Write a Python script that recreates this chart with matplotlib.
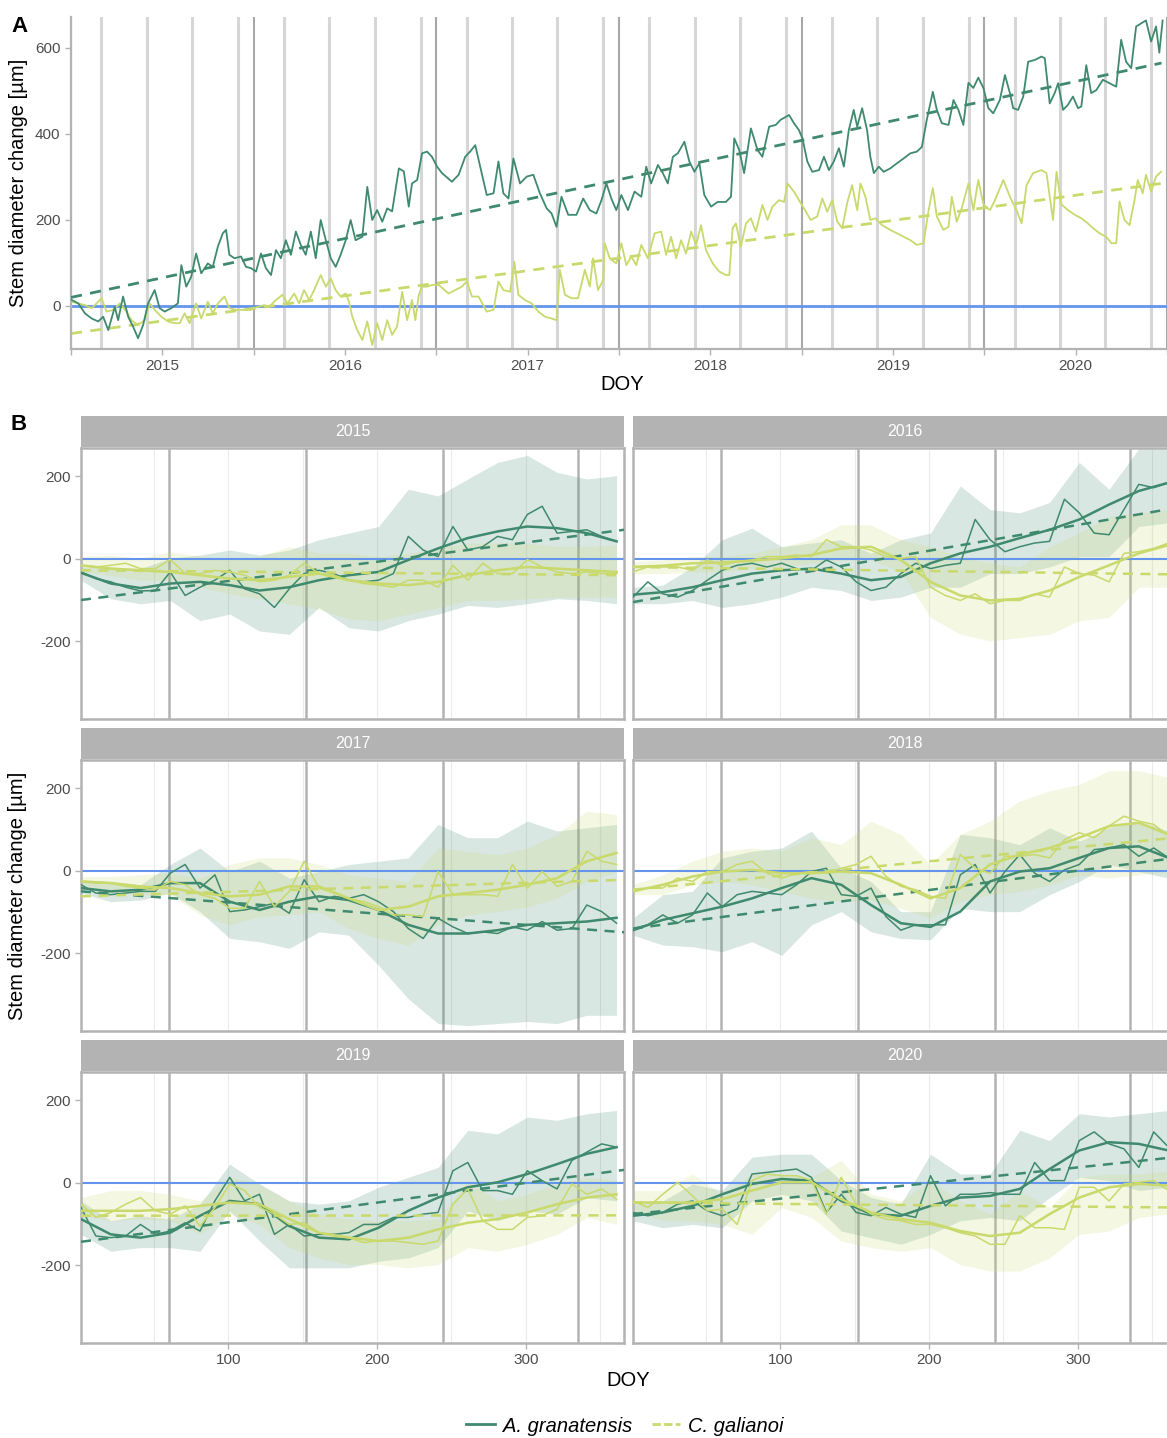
import numpy as np
import matplotlib.pyplot as plt
from matplotlib.lines import Line2D

plt.rcParams['font.family'] = ['Liberation Sans', 'DejaVu Sans']
plt.rcParams['axes.unicode_minus'] = False

DARK = '#3f8a6e'
LIGHT = '#c9d96c'
ZERO = '#6495ed'
GREY = '#b3b3b3'

# ---------------- panel A: whole record (decimal years, um)
yr_gran = [2014.500, 2014.540, 2014.576, 2014.613, 2014.649, 2014.676, 2014.704, 2014.740, 2014.758, 2014.785,
           2014.813, 2014.840, 2014.867, 2014.895, 2014.922, 2014.958, 2014.985, 2015.013, 2015.049, 2015.085,
           2015.104, 2015.131, 2015.158, 2015.185, 2015.213, 2015.249, 2015.276, 2015.304, 2015.331, 2015.349,
           2015.367, 2015.395, 2015.431, 2015.458, 2015.485, 2015.513, 2015.540, 2015.567, 2015.595, 2015.622,
           2015.649, 2015.676, 2015.704, 2015.731, 2015.758, 2015.785, 2015.813, 2015.840, 2015.867, 2015.895,
           2015.922, 2015.949, 2015.976, 2016.004, 2016.031, 2016.058, 2016.095, 2016.122, 2016.149, 2016.176,
           2016.204, 2016.231, 2016.258, 2016.295, 2016.322, 2016.349, 2016.367, 2016.395, 2016.422, 2016.449,
           2016.476, 2016.504, 2016.531, 2016.585, 2016.622, 2016.658, 2016.685, 2016.713, 2016.740, 2016.776,
           2016.813, 2016.840, 2016.867, 2016.895, 2016.922, 2016.958, 2016.995, 2017.031, 2017.067, 2017.104,
           2017.131, 2017.158, 2017.185, 2017.222, 2017.267, 2017.304, 2017.340, 2017.376, 2017.404, 2017.431,
           2017.458, 2017.485, 2017.513, 2017.549, 2017.585, 2017.622, 2017.649, 2017.676, 2017.713, 2017.740,
           2017.767, 2017.795, 2017.822, 2017.858, 2017.885, 2017.913, 2017.940, 2017.967, 2018.004, 2018.040,
           2018.085, 2018.113, 2018.131, 2018.158, 2018.185, 2018.222, 2018.258, 2018.285, 2018.322, 2018.358,
           2018.385, 2018.431, 2018.458, 2018.485, 2018.504, 2018.531, 2018.558, 2018.595, 2018.622, 2018.649,
           2018.676, 2018.704, 2018.731, 2018.758, 2018.785, 2018.804, 2018.831, 2018.858, 2018.876, 2018.895,
           2018.922, 2018.949, 2018.985, 2019.022, 2019.058, 2019.095, 2019.131, 2019.158, 2019.185, 2019.218,
           2019.240, 2019.267, 2019.304, 2019.331, 2019.358, 2019.385, 2019.413, 2019.440, 2019.467, 2019.495,
           2019.522, 2019.549, 2019.585, 2019.613, 2019.640, 2019.658, 2019.685, 2019.713, 2019.740, 2019.776,
           2019.813, 2019.831, 2019.858, 2019.885, 2019.904, 2019.931, 2019.958, 2019.985, 2020.013, 2020.031,
           2020.058, 2020.085, 2020.113, 2020.149, 2020.185, 2020.222, 2020.249, 2020.276, 2020.304, 2020.331,
           2020.358, 2020.385, 2020.413, 2020.440, 2020.458, 2020.476]
sdc_gran = [15, 6, -17, -29, -36, -25, -56, -2, -33, 22,
            -25, -48, -75, -44, 6, 37, -5, -13, -5, 6,
            95, 45, 68, 122, 76, 99, 91, 138, 169, 177,
            119, 111, 115, 91, 88, 80, 122, 88, 72, 130,
            111, 153, 119, 173, 142, 119, 173, 111, 200, 153,
            111, 91, 119, 153, 200, 153, 161, 277, 200, 223,
            196, 227, 220, 320, 313, 231, 285, 293, 355, 359,
            347, 324, 309, 289, 305, 347, 359, 374, 324, 258,
            262, 336, 262, 250, 343, 285, 301, 305, 262, 227,
            215, 184, 254, 212, 212, 250, 223, 215, 246, 285,
            250, 223, 258, 223, 266, 254, 324, 285, 328, 309,
            285, 347, 355, 382, 336, 312, 332, 258, 231, 242,
            242, 254, 390, 363, 309, 413, 363, 347, 417, 421,
            433, 444, 425, 409, 390, 336, 312, 316, 347, 316,
            336, 367, 324, 409, 456, 417, 460, 409, 347, 309,
            324, 312, 320, 332, 343, 355, 359, 370, 433, 498,
            456, 425, 421, 479, 456, 421, 519, 507, 531, 507,
            460, 448, 479, 537, 495, 460, 456, 487, 568, 572,
            580, 576, 471, 495, 518, 456, 468, 487, 460, 464,
            560, 495, 502, 526, 518, 510, 619, 568, 553, 650,
            657, 664, 615, 650, 589, 664]

yr_gali = [2014.500, 2014.540, 2014.576, 2014.613, 2014.640, 2014.667, 2014.695, 2014.731, 2014.767, 2014.804,
           2014.831, 2014.867, 2014.904, 2014.931, 2014.958, 2014.995, 2015.031, 2015.067, 2015.095, 2015.122,
           2015.149, 2015.185, 2015.213, 2015.249, 2015.276, 2015.304, 2015.340, 2015.367, 2015.404, 2015.449,
           2015.485, 2015.522, 2015.558, 2015.585, 2015.622, 2015.658, 2015.685, 2015.722, 2015.749, 2015.776,
           2015.804, 2015.831, 2015.867, 2015.895, 2015.922, 2015.949, 2015.976, 2016.004, 2016.022, 2016.040,
           2016.067, 2016.095, 2016.122, 2016.149, 2016.176, 2016.204, 2016.231, 2016.258, 2016.285, 2016.313,
           2016.340, 2016.367, 2016.385, 2016.404, 2016.422, 2016.449, 2016.476, 2016.513, 2016.567, 2016.604,
           2016.640, 2016.667, 2016.695, 2016.731, 2016.776, 2016.813, 2016.840, 2016.867, 2016.904, 2016.927,
           2016.949, 2016.985, 2017.022, 2017.058, 2017.095, 2017.131, 2017.158, 2017.176, 2017.204, 2017.240,
           2017.276, 2017.313, 2017.340, 2017.358, 2017.385, 2017.413, 2017.422, 2017.449, 2017.485, 2017.513,
           2017.540, 2017.567, 2017.595, 2017.622, 2017.658, 2017.695, 2017.731, 2017.758, 2017.785, 2017.813,
           2017.840, 2017.867, 2017.895, 2017.922, 2017.949, 2017.976, 2018.013, 2018.049, 2018.085, 2018.104,
           2018.122, 2018.140, 2018.167, 2018.195, 2018.222, 2018.249, 2018.285, 2018.313, 2018.340, 2018.376,
           2018.404, 2018.422, 2018.458, 2018.495, 2018.513, 2018.549, 2018.585, 2018.613, 2018.640, 2018.667,
           2018.695, 2018.722, 2018.749, 2018.776, 2018.804, 2018.822, 2018.849, 2018.876, 2018.904, 2018.940,
           2018.985, 2019.022, 2019.058, 2019.095, 2019.131, 2019.167, 2019.195, 2019.218, 2019.240, 2019.276,
           2019.304, 2019.322, 2019.349, 2019.376, 2019.413, 2019.440, 2019.467, 2019.495, 2019.531, 2019.558,
           2019.604, 2019.640, 2019.676, 2019.704, 2019.731, 2019.767, 2019.813, 2019.840, 2019.876, 2019.895,
           2019.922, 2019.958, 2019.995, 2020.031, 2020.067, 2020.095, 2020.131, 2020.167, 2020.195, 2020.222,
           2020.240, 2020.267, 2020.295, 2020.322, 2020.340, 2020.367, 2020.385, 2020.413, 2020.440, 2020.467]
sdc_gali = [10, 6, 2, -5, 6, 18, -13, -9, 6, -13,
            -33, -44, -33, 6, -9, -25, -36, -40, -40, -17,
            -40, 6, -29, 10, -17, 6, 22, -5, -9, -9,
            -9, -2, 2, -2, 14, 26, 6, 29, 6, 37,
            14, 37, 72, 45, 64, 37, 22, 29, 10, -25,
            -56, -79, -36, -91, -40, -79, -33, -67, -48, 33,
            -33, 14, -33, 26, 45, 45, 49, 49, 29, 37,
            45, 57, 22, 22, -13, -9, 57, 37, 33, 103,
            26, 14, 6, -13, -25, -29, -33, 84, 26, 18,
            18, 84, 45, 111, 37, 60, 146, 111, 99, 146,
            95, 115, 95, 142, 111, 169, 173, 119, 161, 111,
            153, 122, 173, 142, 188, 130, 99, 80, 72, 72,
            181, 192, 138, 192, 204, 173, 235, 200, 231, 246,
            242, 285, 266, 239, 227, 200, 208, 250, 219, 246,
            196, 181, 239, 281, 223, 285, 254, 200, 204, 188,
            177, 169, 161, 153, 142, 146, 223, 274, 208, 177,
            184, 254, 196, 227, 285, 223, 293, 236, 223, 246,
            293, 254, 223, 192, 281, 309, 316, 309, 200, 312,
            236, 223, 212, 204, 192, 181, 169, 161, 146, 146,
            243, 200, 188, 246, 293, 262, 305, 266, 301, 312]

trend_yr = [2014.5, 2020.47]
trend_gran = [20, 565]
trend_gali = [-64, 285]

season_doy = [60, 152, 244, 335]
record_years = [2014, 2015, 2016, 2017, 2018, 2019, 2020]

# ---------------- panel B: per-year curves (DOY, um)
years = [2015, 2016, 2017, 2018, 2019, 2020]
doy_raw = [1, 11, 21, 31, 41, 51, 61, 71, 81, 91, 101, 111, 121, 131, 141, 151, 161, 171, 181,
           191, 201, 211, 221, 231, 241, 251, 261, 271, 281, 291, 301, 311, 321, 331, 341, 351, 361]
doy_fit = [1, 21, 41, 61, 81, 101, 121, 141, 161, 181, 201, 221, 241, 261, 281, 301, 321, 341, 361]
doy_grid = [50, 100, 150, 200, 250, 300, 350]

raw_gran = {
    2015: [-32, -48, -56, -69, -78, -77, -32, -89, -69, -52, -28, -73, -85, -118, -73, -36, -28, -36, -52,
           -56, -52, -36, 54, 21, 5, 78, 21, 29, 54, 46, 107, 127, 62, 66, 70, 54, 42],
    2016: [-93, -56, -85, -93, -77, -52, -28, -16, -11, -20, -11, -24, -28, -3, -20, -56, -77, -69, -36,
           -11, -24, -16, -11, 95, 46, 17, 29, 38, 42, 144, 111, 62, 58, 119, 180, 172, 184],
    2017: [-34, -54, -58, -54, -50, -50, -6, 15, -42, -10, -99, -95, -87, -79, -103, -22, -75, -62, -67,
           -58, -75, -99, -140, -164, -115, -136, -152, -148, -152, -136, -144, -123, -144, -140, -83, -99, -127],
    2018: [-140, -131, -107, -127, -107, -54, -87, -58, -50, -54, -58, -34, -2, 6, -58, -62, -42, -111, -144,
           -131, -131, -131, -10, 15, -54, -2, 39, -6, -26, 2, 15, 51, 55, 63, 35, 55, 31],
    2019: [-60, -129, -133, -129, -101, -125, -117, -97, -117, -44, 13, -44, -28, -125, -101, -129, -125, -125, -121,
           -101, -101, -84, -84, -76, -72, 29, 49, -19, -19, -28, 29, 5, -15, 54, 74, 94, 86],
    2020: [-72, -80, -72, -52, -44, -68, -80, -64, 21, 25, 29, 33, 13, -72, -28, -72, -80, -60, -76,
           -84, 17, -56, -28, -28, -24, -28, -28, 49, 5, 5, 102, 123, 94, 82, 37, 123, 86],
}
raw_gali = {
    2015: [-16, -20, -16, -11, -24, -24, -2, -36, -36, -28, -32, -40, -56, -52, -40, -11, -36, -40, -52,
           -60, -64, -69, -52, -52, -69, -16, -52, -11, -36, -36, -2, -20, -32, -36, -32, -36, -36],
    2016: [-32, -20, -20, -20, -28, -3, -16, -7, -3, 5, 5, 9, 5, 46, 29, 29, 21, 5, 1,
           5, -69, -89, -101, -85, -109, -101, -101, -85, -93, -20, -36, -40, -56, 13, 17, 25, 38],
    2017: [-26, -30, -30, -38, -42, -46, -26, -34, -58, -67, -91, -91, -26, -87, -50, 23, -42, -54, -67,
           -75, -87, -107, -107, -111, -2, -58, -58, -58, -62, 15, -42, -2, -38, -26, 47, 23, 15],
    2018: [-46, -42, -42, -18, -26, -2, -2, 15, 23, -6, -18, -6, -2, -6, 6, 15, 35, -14, -38,
           -46, -62, -67, 39, 6, -6, 35, 35, 39, 31, 75, 92, 80, 108, 132, 120, 112, 84],
    2019: [-52, -84, -72, -52, -36, -68, -76, -56, -105, -60, -3, -19, -60, -76, -101, -97, -121, -129, -133,
           -145, -141, -141, -145, -149, -141, -52, -15, -92, -113, -113, -84, -80, -64, -3, -28, -15, -40],
    2020: [-44, -60, -28, 1, -32, -68, -64, -101, 5, 21, 17, 17, 5, -76, 13, -52, -76, -88, -92,
           -101, -101, -109, -121, -129, -149, -149, -80, -109, -109, -113, -11, -11, -44, -3, 1, 5, -19],
}
smooth_gran = {
    2015: [-34, -60, -71, -60, -56, -64, -77, -69, -52, -40, -32, -3, 25, 50, 66, 78, 74, 62, 42],
    2016: [-87, -81, -69, -52, -36, -28, -24, -36, -52, -44, -11, 13, 29, 50, 70, 95, 131, 164, 184],
    2017: [-42, -50, -46, -30, -30, -75, -95, -75, -62, -71, -95, -131, -152, -152, -144, -131, -127, -123, -114],
    2018: [-144, -119, -103, -87, -67, -42, -18, -34, -83, -127, -136, -99, -26, -2, 6, 31, 55, 59, 31],
    2019: [-88, -125, -133, -121, -80, -44, -52, -105, -133, -137, -109, -68, -36, -11, 1, 21, 45, 70, 86],
    2020: [-80, -72, -56, -28, -3, 9, 5, -44, -76, -80, -56, -36, -32, -15, 33, 78, 98, 94, 78],
}
smooth_gali = {
    2015: [-16, -24, -28, -32, -40, -48, -52, -44, -36, -52, -60, -64, -56, -40, -28, -20, -24, -28, -32],
    2016: [-20, -17, -11, -9, -5, 1, 9, 25, 29, -3, -56, -89, -101, -97, -77, -44, -16, 13, 33],
    2017: [-26, -30, -38, -42, -54, -62, -58, -38, -38, -67, -95, -87, -62, -54, -46, -34, -18, 23, 43],
    2018: [-50, -34, -14, -2, 2, -6, -6, -2, -6, -34, -67, -42, 15, 39, 55, 80, 108, 116, 88],
    2019: [-68, -68, -68, -64, -56, -48, -52, -88, -121, -133, -141, -133, -113, -97, -88, -72, -52, -36, -28],
    2020: [-48, -48, -48, -40, -19, 1, 1, -40, -72, -88, -97, -117, -129, -121, -76, -36, -11, -3, -7],
}
lo_gran = {
    2015: [-52, -97, -109, -101, -150, -134, -175, -183, -118, -167, -175, -150, -134, -113, -118, -109, -97, -101, -109],
    2016: [-109, -109, -101, -118, -109, -93, -69, -77, -101, -93, -69, -69, -36, -36, -20, 5, 5, 78, 87],
    2017: [-54, -75, -71, -54, -99, -164, -172, -188, -148, -156, -229, -310, -370, -375, -370, -365, -370, -350, -350],
    2018: [-156, -180, -184, -196, -172, -205, -131, -99, -148, -164, -167, -91, -99, -99, -58, -26, 15, -2, -18],
    2019: [-125, -166, -157, -157, -166, -68, -141, -206, -206, -206, -190, -182, -157, -68, -92, -68, -76, -36, -44],
    2020: [-92, -109, -101, -109, -44, -28, -44, -117, -133, -149, -125, -92, -84, -92, -36, 13, 5, -19, -11],
}
hi_gran = {
    2015: [-20, -20, -24, 1, 9, 21, 9, 21, 46, 62, 78, 168, 152, 193, 233, 250, 209, 193, 201],
    2016: [-69, -64, -20, 46, 74, 29, 38, 46, 13, 46, 62, 176, 119, 111, 136, 233, 168, 266, 266],
    2017: [-22, -26, -34, 15, 55, -2, 23, -18, -2, 15, 23, 31, 112, 80, 80, 120, 96, 104, 112],
    2018: [-115, -58, -50, 31, 47, 55, 96, 6, -26, -99, -99, 88, 80, 63, 104, 71, 104, 120, 96],
    2019: [-44, -92, -80, -88, -52, 45, -3, -44, -52, -44, -11, 13, 37, 127, 118, 159, 151, 167, 175],
    2020: [-52, -44, -3, -19, 62, 69, 69, 5, -36, -52, 69, 21, 21, 127, 102, 167, 159, 167, 175],
}
lo_gali = {
    2015: [-32, -40, -52, -52, -69, -85, -97, -109, -122, -146, -150, -134, -118, -101, -101, -97, -93, -93, -93],
    2016: [-36, -36, -32, -32, -24, -20, -11, -3, -3, -32, -142, -183, -199, -191, -183, -150, -142, -69, -69],
    2017: [-42, -50, -58, -58, -107, -131, -111, -107, -99, -140, -164, -180, -131, -107, -99, -87, -67, -26, -2],
    2018: [-58, -58, -34, -26, -34, -50, -67, -75, -71, -91, -115, -75, -58, -50, -34, -10, -18, -10, -2],
    2019: [-80, -92, -88, -92, -125, -76, -101, -157, -182, -198, -198, -206, -198, -157, -166, -149, -125, -84, -101],
    2020: [-68, -92, -92, -101, -125, -60, -84, -141, -157, -166, -157, -198, -214, -214, -182, -125, -117, -84, -76],
}
hi_gali = {
    2015: [5, 9, 1, 17, 5, 1, 5, 29, 13, 13, 5, 13, 25, 38, 38, 38, 29, 29, 33],
    2016: [-7, -3, 5, 5, 13, 29, 46, 82, 82, 46, 29, 5, -11, -20, 29, 62, 103, 111, 119],
    2017: [-14, -14, -10, -6, -18, 15, 31, 31, 15, -10, -18, -26, 55, 47, 39, 55, 88, 144, 136],
    2018: [-34, -10, 23, 47, 55, 47, 80, 63, 120, 88, 15, 88, 120, 169, 193, 209, 242, 242, 226],
    2019: [-36, -19, -19, -28, -44, 13, -3, -44, -76, -88, -92, -92, -88, 5, -44, -28, -3, 13, 5],
    2020: [-19, -19, 21, -28, 21, 21, 13, 54, -28, -44, 5, -44, -76, -19, -60, 13, 21, 21, 29],
}
trend_doy = [1, 366]
lin_gran = {2015: [-100, 70], 2016: [-105, 123], 2017: [-50, -149],
            2018: [-140, 31], 2019: [-143, 31], 2020: [-76, 62]}
lin_gali = {2015: [-28, -40], 2016: [-20, -38], 2017: [-62, -22],
            2018: [-46, 80], 2019: [-80, -79], 2020: [-48, -60]}

# ---------------- figure
W, H = 1167, 1438
fig = plt.figure(figsize=(W / 100, H / 100), dpi=100)


def box(l, t, r, b):
    return [l / W, 1 - b / H, (r - l) / W, (b - t) / H]


axA = fig.add_axes(box(71, 17, 1167, 349))
for y in record_years:
    for d in season_doy:
        axA.axvline(y + (d - 1) / 365.25, color='#d6d6d6', lw=2.2, zorder=0)
    axA.axvline(y + 0.5, color='#a8a8a8', lw=1.5, zorder=0)
axA.axhline(0, color=ZERO, lw=2, zorder=1)
axA.plot(yr_gran, sdc_gran, color=DARK, lw=1.3, zorder=3)
axA.plot(yr_gali, sdc_gali, color=LIGHT, lw=1.3, zorder=2)
axA.plot(trend_yr, trend_gran, color=DARK, lw=2, dashes=(4, 3), zorder=3)
axA.plot(trend_yr, trend_gali, color=LIGHT, lw=2, dashes=(4, 3), zorder=2)
axA.set_xlim(2014.5, 2020.47)
axA.set_ylim(-100, 672)
half = [2014.5 + 0.5 * i for i in range(13)]
axA.set_xticks(half, [str(int(h)) if h % 1 == 0 else '' for h in half])
axA.set_yticks([0, 200, 400, 600])
for s in ['top', 'right']:
    axA.spines[s].set_visible(False)
for s in ['left', 'bottom']:
    axA.spines[s].set_color(GREY)
    axA.spines[s].set_linewidth(1.6)
axA.tick_params(color=GREY, length=4, width=1, labelcolor='#4d4d4d', labelsize=11)
axA.set_ylabel('Stem diameter change [µm]', fontsize=14.5, labelpad=5)
fig.text(622 / W, 1 - 385 / H, 'DOY', fontsize=14.5, ha='center', va='center')
fig.text(11 / W, 1 - 27 / H, 'A', fontsize=16, fontweight='bold', ha='left', va='center')
fig.text(11 / W, 1 - 424 / H, 'B', fontsize=16, fontweight='bold', ha='left', va='center')

cols = [(81, 624), (633, 1176)]
rows = [(448, 719), (760, 1031), (1072, 1343)]
for i, yr in enumerate(years):
    r, c = divmod(i, 2)
    l, rr = cols[c]
    t, b = rows[r]
    st = fig.add_axes(box(l, t - 32, rr, t - 1))
    st.set_facecolor(GREY)
    st.set_xticks([])
    st.set_yticks([])
    for s in st.spines.values():
        s.set_visible(False)
    st.text(0.5, 0.5, str(yr), color='white', fontsize=11.5, ha='center', va='center',
            transform=st.transAxes)

    ax = fig.add_axes(box(l, t, rr, b))
    for d in doy_grid:
        ax.axvline(d, color='#ebebeb', lw=0.8, zorder=0)
    for d in season_doy:
        ax.axvline(d, color=GREY, lw=1.8, zorder=0.5)
    ax.fill_between(doy_fit, lo_gran[yr], hi_gran[yr], color=DARK, alpha=0.2, lw=0, zorder=1)
    ax.fill_between(doy_fit, lo_gali[yr], hi_gali[yr], color=LIGHT, alpha=0.2, lw=0, zorder=1)
    ax.axhline(0, color=ZERO, lw=1.5, zorder=2)
    ax.plot(doy_raw, raw_gran[yr], color=DARK, lw=1.1, zorder=3)
    ax.plot(doy_fit, smooth_gran[yr], color=DARK, lw=1.8, zorder=3)
    ax.plot(trend_doy, lin_gran[yr], color=DARK, lw=1.8, dashes=(4, 3), zorder=3)
    ax.plot(doy_raw, raw_gali[yr], color=LIGHT, lw=1.1, zorder=4)
    ax.plot(doy_fit, smooth_gali[yr], color=LIGHT, lw=1.8, zorder=4)
    ax.plot(trend_doy, lin_gali[yr], color=LIGHT, lw=1.8, dashes=(4, 3), zorder=4)
    ax.set_xlim(1, 366)
    ax.set_ylim(-388, 268)
    for s in ax.spines.values():
        s.set_color(GREY)
        s.set_linewidth(1.8)
    ax.tick_params(color=GREY, length=4, width=1, labelcolor='#4d4d4d', labelsize=11)
    if c == 0:
        ax.set_yticks([-200, 0, 200])
    else:
        ax.set_yticks([])
    if r == 2:
        ax.set_xticks([100, 200, 300])
    else:
        ax.set_xticks([])

fig.text(18 / W, 1 - 896 / H, 'Stem diameter change [µm]', fontsize=14.5, rotation=90,
         ha='center', va='center')
fig.text(628 / W, 1 - 1380 / H, 'DOY', fontsize=14.5, ha='center', va='center')

handles = [Line2D([], [], color=DARK, lw=2),
           Line2D([], [], color=LIGHT, lw=2, dashes=(3, 1.2))]
fig.legend(handles, ['A. granatensis', 'C. galianoi'], loc='center', ncol=2,
           bbox_to_anchor=(625 / W, 1 - 1426 / H), frameon=False,
           prop={'style': 'italic', 'size': 14.5}, handlelength=1.4, handletextpad=0.4,
           columnspacing=1.0)

fig.savefig('out.png', dpi=100)
